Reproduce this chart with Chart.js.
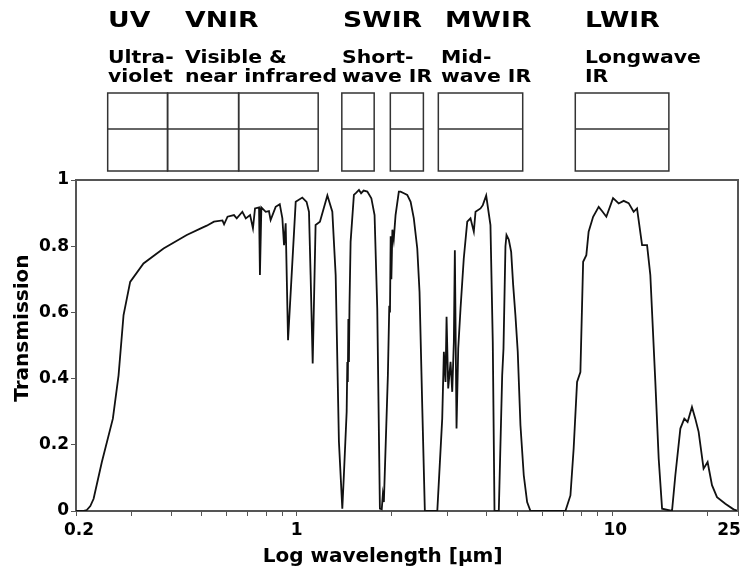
<!DOCTYPE html>
<html>
<head>
<meta charset="utf-8">
<title>Atmospheric transmission</title>
<script src="https://cdn.jsdelivr.net/npm/chart.js@4.4.1/dist/chart.umd.min.js"></script>
<style>
  body { margin: 0; background: #fff; }
  canvas { display: block; }
</style>
</head>
<body>
<canvas id="mycanvas" width="745" height="569"></canvas>
<script>
// wavelength in micrometres
var wavelength = [
  0.200, 0.210, 0.2164, 0.222, 0.2274, 0.2415, 0.2617, 0.2728, 0.2829, 0.2969,
  0.3272, 0.3787, 0.4486, 0.497, 0.519, 0.547, 0.582, 0.589, 0.604, 0.633,
  0.646, 0.673, 0.690, 0.712, 0.727, 0.738, 0.760, 0.765, 0.773, 0.798,
  0.817, 0.827, 0.858, 0.884, 0.901, 0.912, 0.923, 0.939, 0.993, 1.042,
  1.075, 1.094, 1.107, 1.124, 1.148, 1.185, 1.251, 1.297, 1.329, 1.361,
  1.395, 1.411, 1.440, 1.447, 1.452, 1.458, 1.464, 1.470, 1.482, 1.518,
  1.545, 1.575, 1.600, 1.630, 1.674, 1.724, 1.765, 1.800, 1.835, 1.860,
  1.875, 1.889, 1.945, 1.965, 1.975, 1.985, 1.995, 2.010, 2.030, 2.057,
  2.107, 2.134, 2.186, 2.240, 2.296, 2.350, 2.410, 2.450, 2.500, 2.547,
  2.789, 2.891, 2.926, 2.961, 2.984, 3.020, 3.072, 3.110, 3.147, 3.170,
  3.209, 3.249, 3.304, 3.383, 3.470, 3.553, 3.640, 3.686, 3.822, 3.887,
  3.984, 4.110, 4.180, 4.233, 4.368, 4.477, 4.520, 4.585, 4.620, 4.697,
  4.780, 4.850, 4.930, 5.015, 5.115, 5.240, 5.370, 5.503, 7.100, 7.365,
  7.540, 7.730, 7.920, 8.080, 8.270, 8.410, 8.690, 9.050, 9.300, 9.570,
  10.05, 10.47, 10.86, 11.26, 11.68, 11.97, 12.42, 12.88, 13.19, 13.68,
  14.02, 14.37, 15.45, 15.83, 16.42, 16.90, 17.31, 17.87, 18.31, 18.76,
  19.45, 20.03, 20.68, 21.45, 22.79, 24.20, 25.00
];
var transmission = [
  0.000, 0.000, 0.003, 0.015, 0.037, 0.148, 0.279, 0.410, 0.592, 0.692,
  0.748, 0.793, 0.834, 0.854, 0.862, 0.874, 0.878, 0.866, 0.889, 0.894,
  0.884, 0.904, 0.884, 0.894, 0.854, 0.914, 0.917, 0.713, 0.917, 0.904,
  0.906, 0.879, 0.919, 0.927, 0.884, 0.803, 0.869, 0.516, 0.934, 0.947,
  0.934, 0.904, 0.713, 0.446, 0.864, 0.874, 0.953, 0.904, 0.713, 0.209,
  0.007, 0.108, 0.300, 0.450, 0.390, 0.580, 0.450, 0.620, 0.813, 0.955,
  0.962, 0.970, 0.960, 0.968, 0.965, 0.945, 0.894, 0.612, 0.007, 0.005,
  0.050, 0.027, 0.410, 0.620, 0.600, 0.830, 0.700, 0.850, 0.820, 0.894,
  0.965, 0.965, 0.960, 0.955, 0.934, 0.884, 0.793, 0.662, 0.310, 0.000,
  0.000, 0.279, 0.481, 0.390, 0.587, 0.370, 0.451, 0.360, 0.511, 0.788,
  0.249, 0.491, 0.612, 0.763, 0.874, 0.884, 0.844, 0.904, 0.914, 0.924,
  0.953, 0.864, 0.511, 0.000, 0.000, 0.410, 0.491, 0.800, 0.834, 0.820,
  0.783, 0.683, 0.592, 0.481, 0.259, 0.108, 0.027, 0.000, 0.000, 0.047,
  0.189, 0.390, 0.420, 0.753, 0.773, 0.844, 0.889, 0.919, 0.905, 0.889,
  0.945, 0.929, 0.937, 0.930, 0.904, 0.914, 0.803, 0.803, 0.713, 0.390,
  0.158, 0.007, 0.000, 0.108, 0.249, 0.279, 0.269, 0.314, 0.279, 0.239,
  0.128, 0.148, 0.078, 0.042, 0.022, 0.005, 0.000
];

var xTicks = [0.2, 0.3, 0.4, 0.5, 0.6, 0.7, 0.8, 0.9, 1, 2, 3, 4, 5, 6, 7, 8, 9, 10, 20, 25];
var xLabels = {0.2: '\u00a00.2', 1: '1', 10: '\u00a010', 25: '25\u00a0\u00a0\u00a0'};

// sensor band boxes (wavelength limits)
var boxFrom = [0.252, 0.39, 0.655, 1.39, 1.98, 2.81, 7.63];
var boxTo   = [0.39, 0.655, 1.17, 1.76, 2.52, 5.2, 15.1];

var bandNames = ['UV', 'VNIR', 'SWIR', 'MWIR', 'LWIR'];
var bandLine1 = ['Ultra-', 'Visible &', 'Short-', 'Mid-', 'Longwave'];
var bandLine2 = ['violet', 'near infrared', 'wave IR', 'wave IR', 'IR'];

var points = [];
for (var i in wavelength) {
  points.push({x: wavelength[i], y: transmission[i]});
}

function wideText(c, txt, x, y, sx) {
  c.save();
  c.translate(x, y);
  c.scale(sx, 1);
  c.fillText(txt, 0, 0);
  c.restore();
}

var bandsPlugin = {
  id: 'bands',
  afterDraw: function(chart) {
    var c = chart.ctx, a = chart.chartArea, xs = chart.scales.x;
    c.save();
    // frame top + right
    c.strokeStyle = '#555';
    c.lineWidth = 2;
    c.beginPath();
    c.moveTo(a.left, a.top);
    c.lineTo(a.right, a.top);
    c.lineTo(a.right, a.bottom);
    c.stroke();

    // boxes
    c.strokeStyle = '#333';
    c.lineWidth = 1.5;
    for (var i = 0; i < boxFrom.length; i++) {
      var x0 = xs.getPixelForValue(boxFrom[i]);
      var x1 = xs.getPixelForValue(boxTo[i]);
      c.strokeRect(x0, 93, x1 - x0, 78);
      c.beginPath();
      c.moveTo(x0, 129);
      c.lineTo(x1, 129);
      c.stroke();
    }

    // labels
    var hx = [108, 185, 343, 445, 585];
    var dx = [108, 185, 342, 441, 585];
    c.fillStyle = '#000';
    c.textAlign = 'left';
    c.textBaseline = 'alphabetic';
    c.font = 'bold 21px "DejaVu Sans"';
    for (var j = 0; j < bandNames.length; j++) {
      wideText(c, bandNames[j], hx[j], 27, 1.27);
    }
    c.font = 'bold 17px "DejaVu Sans"';
    for (var k = 0; k < bandLine1.length; k++) {
      wideText(c, bandLine1[k], dx[k], 63, 1.2);
      wideText(c, bandLine2[k], dx[k], 82, 1.2);
    }
    c.restore();
  }
};

var ctx = document.getElementById('mycanvas');

var chart = new Chart(ctx, {
  type: 'line',
  data: {
    datasets: [{
      data: points,
      borderColor: '#111',
      borderWidth: 1.8,
      pointRadius: 0,
      tension: 0,
      fill: false
    }]
  },
  options: {
    responsive: false,
    animation: false,
    layout: { padding: { top: 180, right: 7, left: 0, bottom: 0 } },
    plugins: {
      legend: { display: false },
      tooltip: { enabled: false }
    },
    scales: {
      x: {
        type: 'logarithmic',
        min: 0.2,
        max: 25,
        afterBuildTicks: function(scale) {
          scale.ticks = xTicks.map(function(v) { return {value: v}; });
        },
        afterFit: function(scale) {
          scale.height = 58;
          scale.paddingLeft = 0;
          scale.paddingRight = 0;
        },
        ticks: {
          autoSkip: false,
          maxRotation: 0,
          padding: 4,
          color: '#000',
          font: { family: 'DejaVu Sans', size: 17, weight: 'bold' },
          callback: function(value) {
            return xLabels[value] || '';
          }
        },
        grid: { drawOnChartArea: false, tickLength: 5, color: '#555' },
        border: { color: '#555', width: 2 },
        title: {
          display: true,
          text: 'Log wavelength [\u00b5m]\u00a0\u00a0\u00a0\u00a0\u00a0\u00a0\u00a0',
          color: '#000',
          font: { family: 'DejaVu Sans', size: 20, weight: 'bold' },
          padding: { top: 0, bottom: 0 }
        }
      },
      y: {
        min: 0,
        max: 1,
        afterFit: function(scale) {
          scale.width = 76;
        },
        ticks: {
          stepSize: 0.2,
          padding: 2,
          color: '#000',
          font: { family: 'DejaVu Sans', size: 17, weight: 'bold' },
          callback: function(value) {
            return String(Math.round(value * 10) / 10);
          }
        },
        grid: { drawOnChartArea: false, tickLength: 5, color: '#555' },
        border: { color: '#555', width: 2 },
        title: {
          display: true,
          text: '\u00a0\u00a0\u00a0\u00a0\u00a0Transmission',
          color: '#000',
          font: { family: 'DejaVu Sans', size: 20, weight: 'bold' },
          padding: { top: 11, bottom: 0 }
        }
      }
    }
  },
  plugins: [bandsPlugin]
});
</script>
</body>
</html>
